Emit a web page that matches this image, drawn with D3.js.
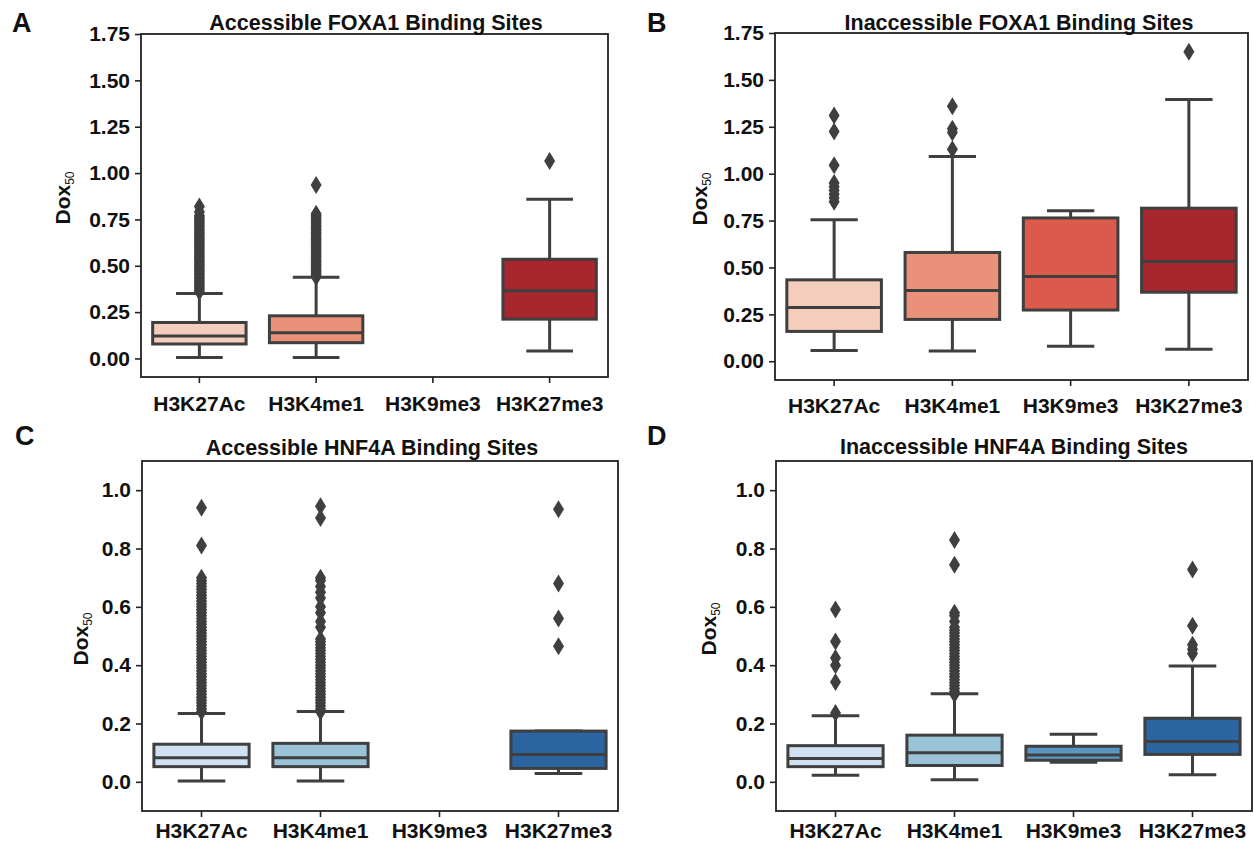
<!DOCTYPE html>
<html>
<head>
<meta charset="utf-8">
<script src="https://cdn.jsdelivr.net/npm/d3@7"></script>
<style>
  body { margin: 0; background: #fff; }
  svg text { font-family: "Liberation Sans", Arial, Helvetica, sans-serif; }
</style>
</head>
<body>
<svg id="fig" width="1254" height="846"></svg>
<script>
// Histone marks on the x axis of every panel
const categories = ["H3K27Ac", "H3K4me1", "H3K9me3", "H3K27me3"];

// y tick values
const foxa1Ticks = [0, 0.25, 0.5, 0.75, 1.0, 1.25, 1.5, 1.75];
const hnf4aTicks = [0, 0.2, 0.4, 0.6, 0.8, 1.0];

// Fill colours per histone mark
const redFills  = ["#f4cdbd", "#ea9179", "#dc5a4b", "#a8262e"];
const blueFills = ["#d0e1f1", "#9bc3d8", "#5a96c3", "#2a65a1"];

// Box statistics per mark: [lower whisker, Q1, median, Q3, upper whisker]; null = no sites
const foxa1AccessibleBoxes = [
  [0.005, 0.078, 0.121, 0.194, 0.351],
  [0.005, 0.085, 0.139, 0.230, 0.438],
  null,
  [0.040, 0.212, 0.365, 0.535, 0.859]
];
const foxa1InaccessibleBoxes = [
  [0.057, 0.159, 0.286, 0.434, 0.755],
  [0.055, 0.223, 0.377, 0.580, 1.091],
  [0.080, 0.273, 0.452, 0.764, 0.803],
  [0.064, 0.368, 0.532, 0.816, 1.396]
];
const hnf4aAccessibleBoxes = [
  [0.003, 0.052, 0.083, 0.129, 0.234],
  [0.003, 0.052, 0.083, 0.132, 0.241],
  null,
  [0.029, 0.046, 0.094, 0.174, 0.174]
];
const hnf4aInaccessibleBoxes = [
  [0.023, 0.052, 0.080, 0.124, 0.227],
  [0.007, 0.056, 0.100, 0.160, 0.302],
  [0.067, 0.074, 0.092, 0.122, 0.163],
  [0.024, 0.094, 0.138, 0.218, 0.397]
];

// Outlying Dox50 values per mark
const foxa1AccessibleFliers = [
  [0.36, 0.37, 0.38, 0.39, 0.40, 0.41, 0.42, 0.43, 0.44, 0.45, 0.46, 0.47, 0.48, 0.49, 0.50,
   0.51, 0.52, 0.53, 0.54, 0.55, 0.56, 0.57, 0.58, 0.59, 0.60, 0.61, 0.62, 0.63, 0.64, 0.65,
   0.66, 0.67, 0.68, 0.69, 0.70, 0.71, 0.72, 0.73, 0.74, 0.75, 0.76, 0.77, 0.79, 0.82],
  [0.44, 0.45, 0.46, 0.47, 0.48, 0.49, 0.50, 0.51, 0.52, 0.53, 0.54, 0.55, 0.56, 0.57, 0.58,
   0.59, 0.60, 0.61, 0.62, 0.63, 0.64, 0.65, 0.66, 0.67, 0.68, 0.69, 0.70, 0.71, 0.72, 0.73,
   0.74, 0.75, 0.76, 0.77, 0.78, 0.935],
  [],
  [1.065]
];
const foxa1InaccessibleFliers = [
  [0.85, 0.87, 0.89, 0.91, 0.93, 0.95, 1.045, 1.225, 1.31],
  [1.13, 1.22, 1.24, 1.36],
  [],
  [1.65]
];
const hnf4aAccessibleFliers = [
  [0.24, 0.25, 0.26, 0.27, 0.28, 0.29, 0.30, 0.31, 0.32, 0.33, 0.34, 0.35, 0.36, 0.37, 0.38,
   0.39, 0.40, 0.41, 0.42, 0.43, 0.44, 0.45, 0.46, 0.47, 0.48, 0.49, 0.50, 0.51, 0.52, 0.53,
   0.54, 0.55, 0.56, 0.57, 0.58, 0.59, 0.60, 0.61, 0.62, 0.63, 0.64, 0.65, 0.66, 0.67, 0.68,
   0.69, 0.70, 0.81, 0.94],
  [0.24, 0.25, 0.26, 0.27, 0.28, 0.29, 0.30, 0.31, 0.32, 0.33, 0.34, 0.35, 0.36, 0.37, 0.38,
   0.39, 0.40, 0.41, 0.42, 0.43, 0.44, 0.45, 0.46, 0.47, 0.48, 0.49, 0.53, 0.55, 0.58, 0.60,
   0.63, 0.65, 0.67, 0.69, 0.70, 0.905, 0.945],
  [],
  [0.465, 0.56, 0.68, 0.935]
];
const hnf4aInaccessibleFliers = [
  [0.236, 0.342, 0.40, 0.425, 0.481, 0.591],
  [0.30, 0.31, 0.32, 0.33, 0.34, 0.35, 0.36, 0.37, 0.38, 0.39, 0.40, 0.41, 0.42, 0.43, 0.44,
   0.45, 0.46, 0.47, 0.48, 0.49, 0.50, 0.51, 0.52, 0.53, 0.55, 0.57, 0.58, 0.744, 0.829],
  [],
  [0.44, 0.455, 0.47, 0.535, 0.728]
];

// Panel layout
const panels = [
  { letter: "A", title: "Accessible FOXA1 Binding Sites", boxes: foxa1AccessibleBoxes,
    fliers: foxa1AccessibleFliers, fills: redFills, ticks: foxa1Ticks, fmt: d3.format(".2f"),
    domain: [-0.1, 1.75], x0: 141, x1: 608, y0: 34, y1: 377,
    letterX: 12, letterY: 32, titleX: 376, titleY: 30, labelX: 70, labelY: 198, xLabelY: 411 },
  { letter: "B", title: "Inaccessible FOXA1 Binding Sites", boxes: foxa1InaccessibleBoxes,
    fliers: foxa1InaccessibleFliers, fills: redFills, ticks: foxa1Ticks, fmt: d3.format(".2f"),
    domain: [-0.1, 1.75], x0: 775, x1: 1248, y0: 33, y1: 380,
    letterX: 647, letterY: 32, titleX: 1019, titleY: 30, labelX: 707, labelY: 199, xLabelY: 413 },
  { letter: "C", title: "Accessible HNF4A Binding Sites", boxes: hnf4aAccessibleBoxes,
    fliers: hnf4aAccessibleFliers, fills: blueFills, ticks: hnf4aTicks, fmt: d3.format(".1f"),
    domain: [-0.1, 1.1], x0: 142, x1: 618, y0: 461, y1: 811,
    letterX: 15, letterY: 445, titleX: 372, titleY: 455, labelX: 88, labelY: 639, xLabelY: 838 },
  { letter: "D", title: "Inaccessible HNF4A Binding Sites", boxes: hnf4aInaccessibleBoxes,
    fliers: hnf4aInaccessibleFliers, fills: blueFills, ticks: hnf4aTicks, fmt: d3.format(".1f"),
    domain: [-0.1, 1.1], x0: 776, x1: 1252, y0: 461, y1: 811,
    letterX: 647, letterY: 445, titleX: 1014, titleY: 454, labelX: 716, labelY: 629, xLabelY: 838 }
];

const svg = d3.select("#fig");
const edge = "#3f3f3f";
const diamond = "M0,-9L5.5,0L0,9L-5.5,0Z";

panels.forEach(p => {
  const g = svg.append("g");
  const x = d3.scaleBand().domain(categories).range([p.x0, p.x1]).padding(0);
  const y = d3.scaleLinear().domain(p.domain).range([p.y1, p.y0]);
  const bw = x.bandwidth() * 0.8;

  // y axis
  const ya = g.append("g").attr("transform", `translate(${p.x0},0)`)
    .call(d3.axisLeft(y).tickValues(p.ticks).tickFormat(p.fmt).tickSize(6).tickPadding(5));
  // x axis
  const xa = g.append("g").attr("transform", `translate(0,${p.y1})`)
    .call(d3.axisBottom(x).tickSize(6).tickPadding(4));
  [ya, xa].forEach(a => {
    a.select(".domain").remove();
    a.selectAll(".tick line").attr("stroke", "#222").attr("stroke-width", 1.6);
    a.selectAll(".tick text").attr("fill", "#111").style("font-size", "21px")
      .style("font-weight", "bold");
  });
  xa.selectAll(".tick text").attr("dy", null).attr("y", p.xLabelY - p.y1);

  // boxes, whiskers and outliers
  categories.forEach((c, i) => {
    const s = p.boxes[i];
    const cx = x(c) + x.bandwidth() / 2;
    if (s) {
      const [lo, q1, med, q3, hi] = s;
      const bg = g.append("g").attr("stroke", edge).attr("stroke-width", 3);
      bg.append("line").attr("x1", cx).attr("x2", cx).attr("y1", y(lo)).attr("y2", y(q1));
      bg.append("line").attr("x1", cx).attr("x2", cx).attr("y1", y(q3)).attr("y2", y(hi));
      bg.append("line").attr("x1", cx - bw / 4).attr("x2", cx + bw / 4).attr("y1", y(lo)).attr("y2", y(lo));
      bg.append("line").attr("x1", cx - bw / 4).attr("x2", cx + bw / 4).attr("y1", y(hi)).attr("y2", y(hi));
      bg.append("rect").attr("x", cx - bw / 2).attr("width", bw)
        .attr("y", y(q3)).attr("height", y(q1) - y(q3)).attr("fill", p.fills[i]);
      bg.append("line").attr("x1", cx - bw / 2).attr("x2", cx + bw / 2).attr("y1", y(med)).attr("y2", y(med));
    }
    g.append("g").selectAll("path").data(p.fliers[i]).join("path")
      .attr("d", diamond).attr("fill", edge)
      .attr("transform", d => `translate(${cx},${y(d)})`);
  });

  // frame
  g.append("rect").attr("x", p.x0).attr("y", p.y0)
    .attr("width", p.x1 - p.x0).attr("height", p.y1 - p.y0)
    .attr("fill", "none").attr("stroke", "#222").attr("stroke-width", 1.8);

  // title
  g.append("text").attr("x", p.titleX).attr("y", p.titleY)
    .attr("text-anchor", "middle").style("font-size", "21.5px").style("font-weight", "bold")
    .attr("fill", "#111").text(p.title);

  // panel letter
  g.append("text").attr("x", p.letterX).attr("y", p.letterY)
    .style("font-size", "27px").style("font-weight", "bold").attr("fill", "#111").text(p.letter);

  // y label: Dox with subscript 50
  const yl = g.append("text")
    .attr("transform", `translate(${p.labelX},${p.labelY}) rotate(-90)`)
    .attr("text-anchor", "middle").attr("fill", "#111");
  yl.append("tspan").style("font-size", "21px").style("font-weight", "bold").text("Dox");
  yl.append("tspan").style("font-size", "12px").attr("dy", 4).text("50");
});
</script>
</body>
</html>
